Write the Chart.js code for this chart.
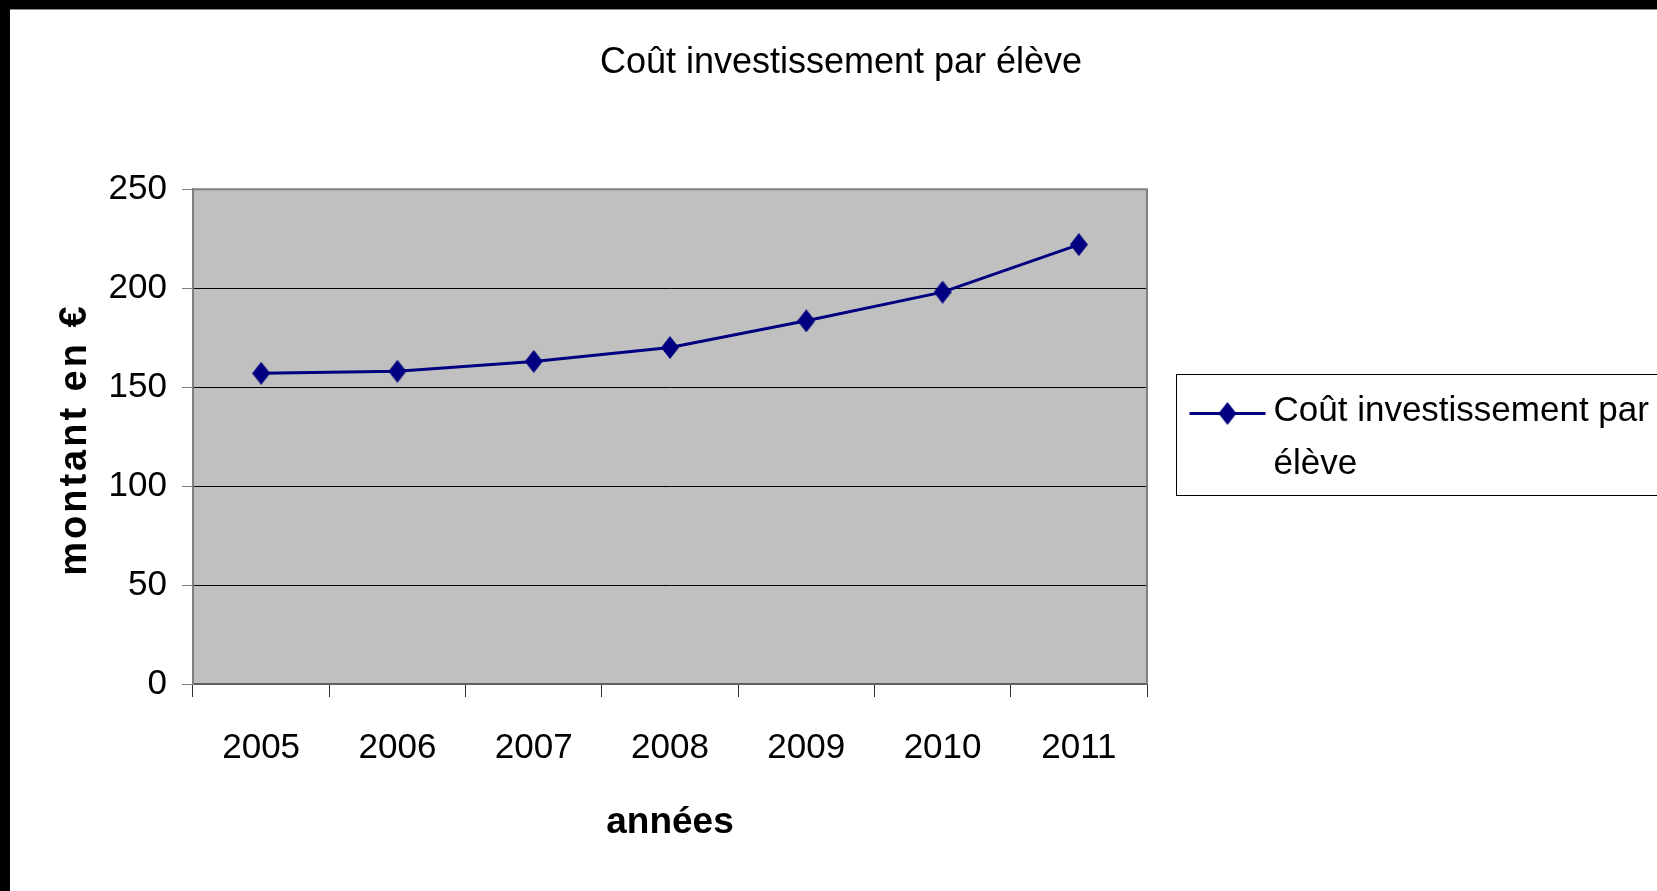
<!DOCTYPE html>
<html lang="fr">
<head>
<meta charset="utf-8">
<title>Coût investissement par élève</title>
<script src="https://cdn.jsdelivr.net/npm/chart.js@4.4.1/dist/chart.umd.min.js"></script>
<style>
    html, body { margin: 0; padding: 0; background: #fff; }
    #chart { display: block; }
</style>
</head>
<body>
<canvas id="chart" width="1657" height="891"></canvas>
<script>
const years = ['2005', '2006', '2007', '2008', '2009', '2010', '2011'];
const costPerPupil = [157, 158, 163, 170, 183.5, 198, 222];
const yTicks = [0, 50, 100, 150, 200, 250];

const chartTitle = 'Coût investissement par élève';
const seriesLabel = 'Coût investissement par élève';
const xTitle = 'années';
const yTitle = 'montant en €';

const NAVY = '#000080';
// pas de police étroite installée : Liberation Sans un peu plus petite
const TEXT_FONT = "'Liberation Sans Narrow', 'Liberation Sans', Arial, sans-serif";
const SANS = "'Liberation Sans', Arial, sans-serif";

/**
 * Losange un peu plus haut que large, comme dans le graphique d'origine.
 */
function makeDiamond(w, h, color) {
    const c = document.createElement('canvas');
    c.width = w;
    c.height = h;
    const g = c.getContext('2d');
    g.fillStyle = color;
    g.beginPath();
    g.moveTo(w / 2, 0);
    g.lineTo(w, h / 2);
    g.lineTo(w / 2, h);
    g.lineTo(0, h / 2);
    g.closePath();
    g.fill();
    return c;
}

const diamond = makeDiamond(18, 23, NAVY);

function wrapText(ctx, text, maxWidth) {
    const words = text.split(' ');
    const lines = [];
    let line = '';
    words.forEach(word => {
        const test = line ? line + ' ' + word : word;
        if (line && ctx.measureText(test).width > maxWidth) {
            lines.push(line);
            line = word;
        } else {
            line = test;
        }
    });
    if (line) lines.push(line);
    return lines;
}

// fond gris de la zone de tracé + cadre noir de la capture
const framePlugin = {
    id: 'frame',
    beforeDraw(chart) {
        const { ctx, chartArea: a, width, height } = chart;
        ctx.save();
        ctx.fillStyle = '#fff';
        ctx.fillRect(0, 0, width, height);
        ctx.fillStyle = '#000';
        ctx.fillRect(0, 0, width, 9);
        ctx.fillRect(0, 0, 10, height);
        ctx.fillStyle = '#8a8a8a';
        ctx.fillRect(10, 9, width - 10, 1);
        ctx.fillStyle = '#c0c0c0';
        ctx.fillRect(a.left, a.top, a.right - a.left, a.bottom - a.top);
        ctx.restore();
    },
    beforeDatasetsDraw(chart) {
        const { ctx, chartArea: a } = chart;
        ctx.save();
        ctx.strokeStyle = '#808080';
        ctx.lineWidth = 2;
        ctx.beginPath();
        ctx.moveTo(a.left, a.top);
        ctx.lineTo(a.right, a.top);
        ctx.lineTo(a.right, a.bottom);
        ctx.stroke();
        ctx.restore();
    }
};

// titre de l'axe Y, espacé comme l'original
const yTitlePlugin = {
    id: 'yTitle',
    afterDraw(chart) {
        const { ctx } = chart;
        const s = chart.scales.y;
        ctx.save();
        ctx.translate(s.left + 51, (s.top + s.bottom) / 2 + 3);
        ctx.rotate(-Math.PI / 2);
        ctx.font = `bold 38px ${SANS}`;
        ctx.letterSpacing = '3px';
        ctx.fillStyle = '#000';
        ctx.textAlign = 'center';
        ctx.textBaseline = 'middle';
        ctx.fillText(yTitle, 0, 0);
        ctx.restore();
    }
};

// légende encadrée, texte sur deux lignes
const legendPlugin = {
    id: 'boxLegend',
    afterDraw(chart) {
        const { ctx, width } = chart;
        const ds = chart.data.datasets[0];
        const box = { x: 1176.5, y: 374.5, w: 520, h: 121 };
        ctx.save();
        ctx.strokeStyle = '#000';
        ctx.lineWidth = 1;
        ctx.strokeRect(box.x, box.y, box.w, box.h);

        const midY = box.y + 39;
        ctx.strokeStyle = ds.borderColor;
        ctx.lineWidth = ds.borderWidth;
        ctx.beginPath();
        ctx.moveTo(box.x + 13, midY);
        ctx.lineTo(box.x + 89, midY);
        ctx.stroke();
        ctx.drawImage(diamond, box.x + 51 - diamond.width / 2, midY - diamond.height / 2);

        ctx.font = `35px ${TEXT_FONT}`;
        ctx.fillStyle = '#000';
        ctx.textAlign = 'left';
        ctx.textBaseline = 'middle';
        const textX = box.x + 97;
        const lines = wrapText(ctx, ds.label, width - textX - 2);
        lines.forEach((line, i) => ctx.fillText(line, textX, box.y + 37 + i * 53));
        ctx.restore();
    }
};

new Chart(document.getElementById('chart'), {
    type: 'line',
    data: {
        labels: years,
        datasets: [{
            label: seriesLabel,
            data: costPerPupil,
            borderColor: NAVY,
            backgroundColor: NAVY,
            borderWidth: 3,
            pointStyle: diamond,
            pointRadius: 11,
            pointHoverRadius: 11,
            tension: 0,
            yAxisID: 'y'
        }]
    },
    options: {
        responsive: false,
        animation: false,
        devicePixelRatio: 1,
        events: [],
        layout: { padding: { left: 25, right: 0, top: 0, bottom: 0 } },
        plugins: {
            legend: { display: false },
            tooltip: { enabled: false },
            title: {
                display: true,
                text: chartTitle,
                color: '#000',
                font: { family: TEXT_FONT, size: 36, weight: 'normal' },
                padding: { top: 41, bottom: 105 }
            }
        },
        scales: {
            x: {
                offset: true,
                grid: { offset: true, drawOnChartArea: false, tickLength: 13, color: '#333' },
                border: { color: '#606060', width: 2 },
                ticks: {
                    color: '#000',
                    padding: 30,
                    maxRotation: 0,
                    autoSkip: false,
                    font: { family: TEXT_FONT, size: 35 }
                },
                title: {
                    display: true,
                    text: xTitle,
                    color: '#000',
                    font: { family: SANS, size: 37, weight: 'bold' },
                    padding: { top: 0, bottom: 46 }
                },
                afterFit(scale) { scale.height = 207; }
            },
            y: {
                min: yTicks[0],
                max: yTicks[yTicks.length - 1],
                ticks: {
                    stepSize: yTicks[1] - yTicks[0],
                    color: '#000',
                    padding: 15,
                    font: { family: TEXT_FONT, size: 35 }
                },
                grid: { color: '#000', tickColor: '#808080', tickLength: 11, lineWidth: 1 },
                border: { color: '#808080', width: 2 },
                afterFit(scale) { scale.width = 168; }
            },
            // réserve la place de la légende à droite
            spacer: {
                type: 'linear',
                position: 'right',
                grid: { display: false },
                border: { display: false },
                ticks: { display: false },
                afterFit(scale) { scale.width = 510; }
            }
        }
    },
    plugins: [framePlugin, yTitlePlugin, legendPlugin]
});
</script>
</body>
</html>
